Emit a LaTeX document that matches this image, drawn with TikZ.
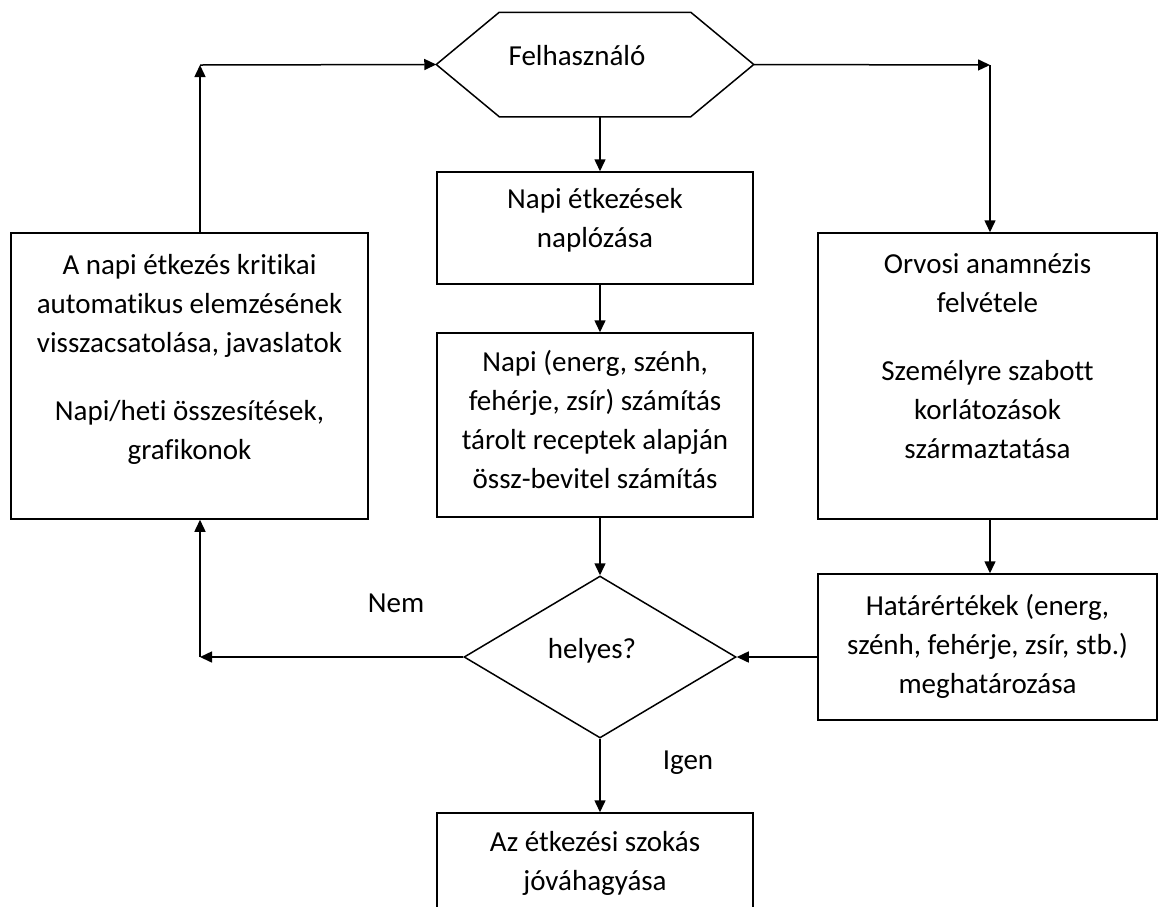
\documentclass[tikz,border=0pt]{standalone}
\usepackage{fontspec}
\setmainfont{Carlito}[Ligatures=NoCommon]
\usetikzlibrary{positioning, arrows.meta, shapes.geometric, calc}

\begin{document}
\begin{tikzpicture}[x=1pt, y=-1pt, >={Triangle[length=12pt, width=11pt]},
    line width=1.5pt, font=\fontsize{29}{39}\selectfont,
    box/.style={draw, align=center, inner sep=0pt, minimum width=316pt,
      minimum height=#1},
    box/.default=112pt]
  \useasboundingbox (0,0) rectangle (1159,906);

  % middle column
  \node[minimum width=316pt, minimum height=103pt, inner sep=0pt,
    text depth=18pt] (user) at (595,64.5) {Felhasználó\hspace*{36pt}};
  \draw (user.west) -- ($(user.north west)+(63,0)$)
    -- ($(user.north east)+(-63,0)$) -- (user.east)
    -- ($(user.south east)+(-63,0)$) -- ($(user.south west)+(63,0)$) -- cycle;
  \node[box, text depth=21pt] (log) at (595,228) {Napi étkezések\\naplózása};
  \node[box=184pt, text depth=12pt] (calc) at (595,425)
    {Napi (energ, szénh,\\fehérje, zsír) számítás\\tárolt receptek alapján\\össz-bevitel számítás};
  \node[diamond, draw, inner sep=0pt, minimum width=272pt, minimum height=162pt,
    text depth=18pt] (dec) at (600,657) {helyes?\hspace*{16pt}};
  \node[box, text depth=17pt] (ok) at (595,869) {Az étkezési szokás\\jóváhagyása};

  % side columns
  \node[box=286pt, minimum width=357pt, text depth=38pt] (fb) at (189.5,376)
    {A napi étkezés kritikai\\automatikus elemzésének\\visszacsatolása, javaslatok\\[29pt]Napi/heti összesítések,\\grafikonok};
  \node[box=286pt, minimum width=339pt, text depth=40pt] (med) at (987.5,376)
    {Orvosi anamnézis\\felvétele\\[29pt]Személyre szabott\\korlátozások\\származtatása};
  \node[box=146pt, minimum width=339pt, text depth=6pt] (lim) at (987.5,647)
    {Határértékek (energ,\\szénh, fehérje, zsír, stb.)\\meghatározása};

  \coordinate (tl) at (200,65);
  \coordinate (tr) at (990,65);
  \coordinate (bl) at (200,657);

  % connectors
  \draw[->] (user.east) -- (tr);
  \draw[->] (tr) -- (tr |- med.north);
  \draw[->] (tl |- fb.north) -- (tl);
  \draw[->] (tl) -- (user.west);
  \draw[->] ([xshift=5pt]user.south) -- ([xshift=5pt]log.north);
  \draw[->] ([xshift=5pt]log.south) -- ([xshift=5pt]calc.north);
  \draw[->] ([xshift=5pt]calc.south) -- (dec.north);
  \draw[->] (tr |- med.south) -- (tr |- lim.north);
  \draw[->] (lim.west |- dec.east) -- (dec.east);
  \draw[->] (dec.west) -- (bl);
  \draw[->] (bl) -- (tl |- fb.south);
  \draw[->] (dec.south) -- (dec.south |- ok.north);

  \node (nem) at (396,603) {Nem};
  \node (igen) at (688,763) {Igen};
\end{tikzpicture}
\end{document}
